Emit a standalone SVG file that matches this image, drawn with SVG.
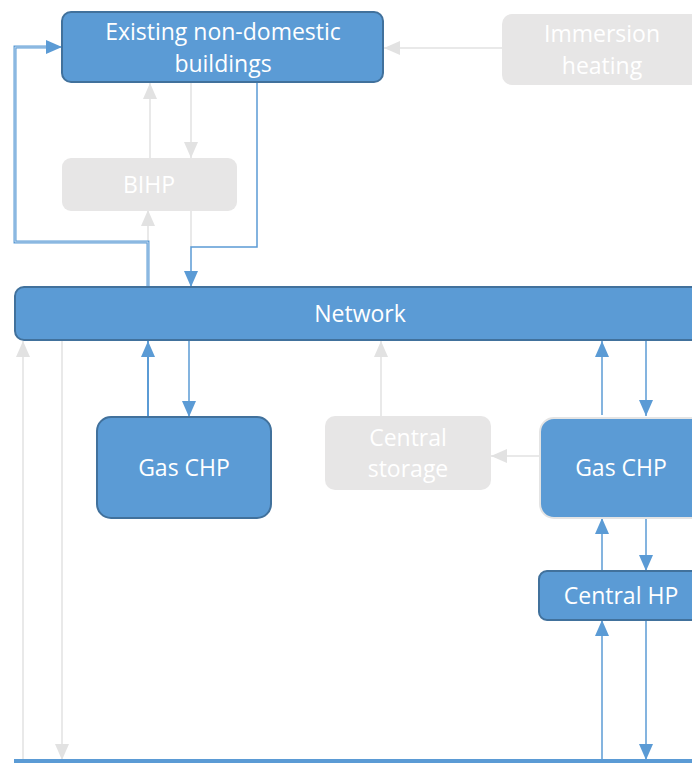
<svg xmlns="http://www.w3.org/2000/svg" width="692" height="763" viewBox="0 0 692 763">
<style>
.blue{fill:#5B9BD5;stroke:#41719C;stroke-width:2}
.gray{fill:#E7E6E6;stroke:none}
.t{font-family:"Open Sans","Liberation Sans",sans-serif;font-size:23px;fill:#FFFFFF;text-anchor:middle}
.cb{fill:none;stroke:#5B9BD5;stroke-width:1.5}
.cg{fill:none;stroke:#E2E2E2;stroke-width:1.5}
</style>
<defs>
<marker id="ab" markerUnits="userSpaceOnUse" markerWidth="16" markerHeight="14" refX="16" refY="7" orient="auto">
<path d="M0,0 L16,7 L0,14 z" fill="#5B9BD5"/>
</marker>
<marker id="ag" markerUnits="userSpaceOnUse" markerWidth="16" markerHeight="14" refX="16" refY="7" orient="auto">
<path d="M0,0 L16,7 L0,14 z" fill="#E2E2E2"/>
</marker>
</defs>
<rect width="692" height="763" fill="#FFFFFF"/>
<g id="connectors">
<path class="cg" d="M150,158 V83" marker-end="url(#ag)"/>
<path class="cg" d="M191,83 V158" marker-end="url(#ag)"/>
<path class="cg" d="M148,287 V210" marker-end="url(#ag)"/>
<path class="cg" d="M191,211 V247"/>
<path class="cg" d="M502,48 H384" marker-end="url(#ag)"/>
<path class="cg" d="M23,760 V341" marker-end="url(#ag)"/>
<path class="cg" d="M62,341 V760" marker-end="url(#ag)"/>
<path class="cg" d="M381,416 V341" marker-end="url(#ag)"/>
<path class="cg" d="M539,456 H491" marker-end="url(#ag)"/>
<path d="M148,287 V242 H15 V47 H49" fill="none" stroke="#5B9BD5" stroke-width="3"/>
<path d="M148,287 V242 H15 V47 H49" fill="none" stroke="#D4E4F4" stroke-width="0.8"/>
<path class="cb" d="M47,47 H62" marker-end="url(#ab)"/>
<path class="cb" d="M257,83 V247 H191 V287" marker-end="url(#ab)"/>
<path class="cb" style="stroke-width:2" d="M148,417 V341" marker-end="url(#ab)"/>
<path class="cb" d="M189,341 V417" marker-end="url(#ab)"/>
<path class="cb" d="M602,415 V341" marker-end="url(#ab)"/>
<path class="cb" d="M646,341 V416" marker-end="url(#ab)"/>
<path class="cb" d="M602,571 V518" marker-end="url(#ab)"/>
<path class="cb" d="M646,519 V571" marker-end="url(#ab)"/>
<path class="cb" d="M602,760 V620" marker-end="url(#ab)"/>
<path class="cb" d="M646,621 V760" marker-end="url(#ab)"/>
</g>
<g id="existing">
<rect class="blue" x="62" y="12" width="321" height="70" rx="9"/>
<text class="t" x="223" y="40">Existing non-domestic</text>
<text class="t" x="223" y="72">buildings</text>
</g>
<g id="immersion">
<rect class="gray" x="502" y="14" width="210" height="71" rx="10"/>
<text class="t" x="602" y="42">Immersion</text>
<text class="t" x="602" y="74">heating</text>
</g>
<g id="bihp">
<rect class="gray" x="62" y="158" width="175" height="53" rx="9"/>
<text class="t" x="149" y="193">BIHP</text>
</g>
<g id="network">
<rect class="blue" x="15" y="287" width="700" height="53" rx="9"/>
<text class="t" x="360" y="322">Network</text>
</g>
<g id="gaschp-left">
<rect class="blue" x="97" y="417" width="174" height="101" rx="14"/>
<text class="t" x="184" y="476">Gas CHP</text>
</g>
<g id="central-storage">
<rect class="gray" x="325" y="416" width="166" height="74" rx="10"/>
<text class="t" x="408" y="446">Central</text>
<text class="t" x="408" y="477">storage</text>
</g>
<g id="gaschp-right">
<rect x="540" y="418" width="170" height="100" rx="14" fill="#5B9BD5" stroke="#E4E4E4" stroke-width="2"/>
<text class="t" x="621" y="476">Gas CHP</text>
</g>
<g id="central-hp">
<rect class="blue" x="539" y="571" width="170" height="49" rx="8"/>
<text class="t" x="621" y="604">Central HP</text>
</g>
<g id="bottom">
<rect x="14" y="759" width="700" height="20" fill="#5B9BD5"/>
</g>
</svg>
